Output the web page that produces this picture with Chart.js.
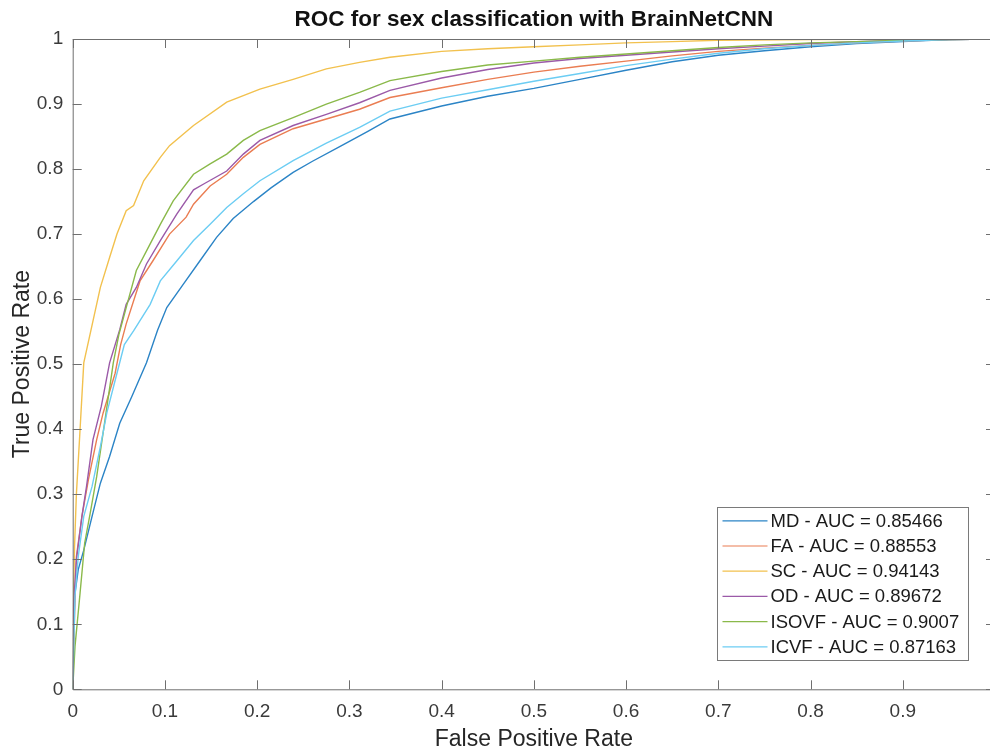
<!DOCTYPE html>
<html>
<head>
<meta charset="utf-8">
<script src="https://cdn.jsdelivr.net/npm/chart.js@4.4.0/dist/chart.umd.min.js"></script>
<style>
    html, body { margin: 0; padding: 0; overflow: hidden; background: #fff; }
    #wrap { position: relative; width: 995px; height: 751px; }
</style>
</head>
<body>
<div id="wrap"><canvas id="roc"></canvas></div>
<script>
// Series names and AUC values from the legend
const seriesNames = ["MD", "FA", "SC", "OD", "ISOVF", "ICVF"];
const aucValues = ["0.85466", "0.88553", "0.94143", "0.89672", "0.9007", "0.87163"];
const seriesColors = ["#2b84c6", "#ea7d52", "#f2c14e", "#9b5aa8", "#8ab94a", "#6ccdf3"];

// Axis tick values
const xTicks = [0, 0.1, 0.2, 0.3, 0.4, 0.5, 0.6, 0.7, 0.8, 0.9, 1];
const yTicks = [0, 0.1, 0.2, 0.3, 0.4, 0.5, 0.6, 0.7, 0.8, 0.9, 1];

// ROC points (false positive rate / true positive rate)
const mdFpr = [0, 0.001, 0.0025, 0.006, 0.012, 0.021, 0.030, 0.040, 0.051, 0.064, 0.080, 0.092, 0.102, 0.120, 0.138, 0.156, 0.174, 0.196, 0.215, 0.239, 0.260, 0.290, 0.320, 0.344, 0.400, 0.450, 0.500, 0.550, 0.600, 0.650, 0.700, 0.750, 0.800, 0.850, 0.900, 0.950, 1];
const mdTpr = [0, 0.091, 0.148, 0.184, 0.214, 0.266, 0.317, 0.358, 0.409, 0.450, 0.502, 0.552, 0.587, 0.623, 0.659, 0.695, 0.724, 0.750, 0.771, 0.795, 0.812, 0.835, 0.858, 0.877, 0.897, 0.912, 0.924, 0.938, 0.952, 0.965, 0.975, 0.982, 0.988, 0.993, 0.996, 0.999, 1];

const faFpr = [0, 0.0025, 0.004, 0.010, 0.017, 0.026, 0.033, 0.046, 0.052, 0.058, 0.073, 0.087, 0.105, 0.123, 0.131, 0.149, 0.167, 0.185, 0.203, 0.239, 0.275, 0.311, 0.344, 0.400, 0.450, 0.500, 0.550, 0.600, 0.650, 0.700, 0.750, 0.800, 0.850, 0.900, 0.950, 1];
const faTpr = [0, 0.143, 0.204, 0.266, 0.322, 0.384, 0.425, 0.486, 0.530, 0.562, 0.628, 0.659, 0.700, 0.726, 0.746, 0.774, 0.792, 0.818, 0.838, 0.862, 0.877, 0.892, 0.910, 0.925, 0.938, 0.949, 0.958, 0.966, 0.974, 0.981, 0.986, 0.990, 0.994, 0.997, 0.999, 1];

const scFpr = [0, 0.001, 0.002, 0.004, 0.008, 0.012, 0.021, 0.030, 0.040, 0.048, 0.058, 0.066, 0.077, 0.095, 0.105, 0.131, 0.167, 0.203, 0.239, 0.275, 0.311, 0.344, 0.400, 0.450, 0.500, 0.550, 0.600, 0.650, 0.700, 0.800, 0.900, 1];
const scTpr = [0, 0.150, 0.220, 0.300, 0.400, 0.502, 0.560, 0.618, 0.664, 0.700, 0.736, 0.744, 0.782, 0.818, 0.836, 0.867, 0.903, 0.923, 0.938, 0.954, 0.964, 0.972, 0.981, 0.985, 0.988, 0.991, 0.994, 0.996, 0.998, 0.999, 1, 1];

const odFpr = [0, 0.001, 0.004, 0.010, 0.015, 0.022, 0.031, 0.040, 0.051, 0.058, 0.069, 0.080, 0.095, 0.113, 0.131, 0.142, 0.167, 0.185, 0.203, 0.239, 0.275, 0.311, 0.344, 0.400, 0.450, 0.500, 0.550, 0.600, 0.650, 0.700, 0.750, 0.800, 0.850, 0.900, 0.950, 1];
const odTpr = [0, 0.132, 0.199, 0.266, 0.312, 0.384, 0.435, 0.502, 0.553, 0.592, 0.618, 0.654, 0.690, 0.731, 0.768, 0.777, 0.797, 0.823, 0.844, 0.867, 0.884, 0.902, 0.921, 0.940, 0.953, 0.963, 0.970, 0.975, 0.980, 0.985, 0.989, 0.993, 0.996, 0.998, 0.999, 1];

const isovfFpr = [0, 0.0025, 0.008, 0.013, 0.019, 0.026, 0.035, 0.044, 0.050, 0.058, 0.069, 0.084, 0.095, 0.109, 0.131, 0.149, 0.167, 0.185, 0.203, 0.239, 0.275, 0.311, 0.344, 0.400, 0.450, 0.500, 0.550, 0.600, 0.650, 0.700, 0.750, 0.800, 0.850, 0.900, 0.950, 1];
const isovfTpr = [0, 0.066, 0.148, 0.225, 0.271, 0.327, 0.414, 0.502, 0.545, 0.587, 0.644, 0.685, 0.715, 0.751, 0.792, 0.808, 0.823, 0.844, 0.859, 0.879, 0.900, 0.918, 0.936, 0.950, 0.960, 0.966, 0.972, 0.977, 0.982, 0.987, 0.991, 0.994, 0.996, 0.998, 0.999, 1];

const icvfFpr = [0, 0.0025, 0.006, 0.012, 0.021, 0.030, 0.037, 0.048, 0.056, 0.066, 0.084, 0.095, 0.113, 0.131, 0.149, 0.167, 0.185, 0.203, 0.239, 0.275, 0.311, 0.344, 0.400, 0.450, 0.500, 0.550, 0.600, 0.650, 0.700, 0.750, 0.800, 0.850, 0.900, 0.950, 1];
const icvfTpr = [0, 0.143, 0.204, 0.266, 0.312, 0.373, 0.425, 0.486, 0.530, 0.551, 0.592, 0.628, 0.659, 0.690, 0.715, 0.741, 0.762, 0.782, 0.813, 0.840, 0.864, 0.889, 0.909, 0.922, 0.935, 0.947, 0.959, 0.969, 0.978, 0.985, 0.990, 0.994, 0.997, 0.999, 1];

const fprList = [mdFpr, faFpr, scFpr, odFpr, isovfFpr, icvfFpr];
const tprList = [mdTpr, faTpr, scTpr, odTpr, isovfTpr, icvfTpr];

const FONT = "'Liberation Sans', Arial, Helvetica, sans-serif";
const AXIS_COLOR = "#6f6f6f";
const TEXT_COLOR = "#3a3a3a";

// build datasets: later series drawn on top like MATLAB
const datasets = seriesNames.map((name, i) => ({
    label: name + " - AUC = " + aucValues[i],
    data: fprList[i].map((fx, k) => ({ x: fx, y: tprList[i][k] })),
    borderColor: seriesColors[i],
    borderWidth: 1.4,
    pointRadius: 0,
    tension: 0,
    fill: false,
    order: seriesNames.length - i,
}));

// box around the plot with inward tick marks on all four sides
const matlabAxes = {
    id: "matlabAxes",
    afterDatasetsDraw(chart) {
        const { ctx, chartArea: a, scales } = chart;
        const len = 9;
        ctx.save();
        ctx.strokeStyle = AXIS_COLOR;
        ctx.lineWidth = 1;
        ctx.beginPath();
        ctx.rect(a.left + 0.5, a.top + 0.5, a.right - a.left, a.bottom - a.top);
        xTicks.forEach((v) => {
            const px = Math.round(scales.x.getPixelForValue(v)) + 0.5;
            ctx.moveTo(px, a.bottom);
            ctx.lineTo(px, a.bottom - len);
            ctx.moveTo(px, a.top);
            ctx.lineTo(px, a.top + len);
        });
        yTicks.forEach((v) => {
            const py = Math.round(scales.y.getPixelForValue(v)) + 0.5;
            ctx.moveTo(a.left, py);
            ctx.lineTo(a.left + len, py);
            ctx.moveTo(a.right, py);
            ctx.lineTo(a.right - len, py);
        });
        ctx.stroke();
        ctx.restore();
    },
};

// legend box in the lower right corner
const boxLegend = {
    id: "boxLegend",
    afterDraw(chart) {
        const { ctx, chartArea: a } = chart;
        const sets = chart.data.datasets;
        const rowH = 25.2;
        const w = 251, h = 153;
        const right = a.right - 27.5;
        const bottom = a.bottom - 29.5;
        const left = right - w, top = bottom - h;
        ctx.save();
        ctx.fillStyle = "#fff";
        ctx.fillRect(left, top, w, h);
        ctx.strokeStyle = "#7a7a7a";
        ctx.lineWidth = 1;
        ctx.strokeRect(Math.round(left) + 0.5, Math.round(top) + 0.5, w, h);
        ctx.font = "18.5px " + FONT;
        ctx.textBaseline = "middle";
        ctx.fillStyle = "#1a1a1a";
        sets.forEach((ds, i) => {
            const cy = top + 14 + i * rowH;
            ctx.strokeStyle = ds.borderColor;
            ctx.lineWidth = 1.2;
            ctx.beginPath();
            ctx.moveTo(left + 6, cy);
            ctx.lineTo(left + 51, cy);
            ctx.stroke();
            ctx.fillText(ds.label, left + 54, cy + 1);
        });
        ctx.restore();
    },
};

new Chart(document.getElementById("roc"), {
    type: "line",
    data: { datasets: datasets },
    options: {
        responsive: true,
        maintainAspectRatio: false,
        animation: false,
        devicePixelRatio: 1,
        layout: { padding: 0 },
        plugins: {
            legend: { display: false },
            tooltip: { enabled: false },
            title: {
                display: true,
                fullSize: false,
                text: "ROC for sex classification with BrainNetCNN",
                color: "#111",
                font: { family: FONT, size: 22.5, weight: "bold", lineHeight: 1.2 },
                padding: { top: 6, bottom: 6 },
            },
        },
        scales: {
            x: {
                type: "linear",
                min: 0,
                max: 1,
                grid: { display: false, drawTicks: false },
                border: { display: false },
                afterBuildTicks: (s) => { s.ticks = xTicks.map((v) => ({ value: v })); },
                afterFit: (s) => { s.height = 61.7; s.paddingLeft = 0; s.paddingRight = 0; },
                ticks: {
                    padding: 11,
                    color: TEXT_COLOR,
                    font: { family: FONT, size: 19 },
                    maxRotation: 0,
                    autoSkip: false,
                    callback: (v) => String(v),
                },
                title: {
                    display: true,
                    text: "False Positive Rate",
                    color: "#262626",
                    font: { family: FONT, size: 23, lineHeight: 1 },
                    padding: { top: 0, bottom: 0 },
                },
            },
            y: {
                type: "linear",
                min: 0,
                max: 1,
                grid: { display: false, drawTicks: false },
                border: { display: false },
                afterBuildTicks: (s) => { s.ticks = yTicks.map((v) => ({ value: v })); },
                afterFit: (s) => { s.width = 72.7; s.paddingTop = 0; s.paddingBottom = 0; },
                ticks: {
                    padding: 9.5,
                    color: TEXT_COLOR,
                    font: { family: FONT, size: 19 },
                    autoSkip: false,
                    callback: (v) => String(v),
                },
                title: {
                    display: true,
                    text: "True Positive Rate",
                    color: "#262626",
                    font: { family: FONT, size: 23, lineHeight: 1 },
                    padding: { top: 11, bottom: 0 },
                },
            },
        },
    },
    plugins: [matlabAxes, boxLegend],
});
</script>
</body>
</html>
